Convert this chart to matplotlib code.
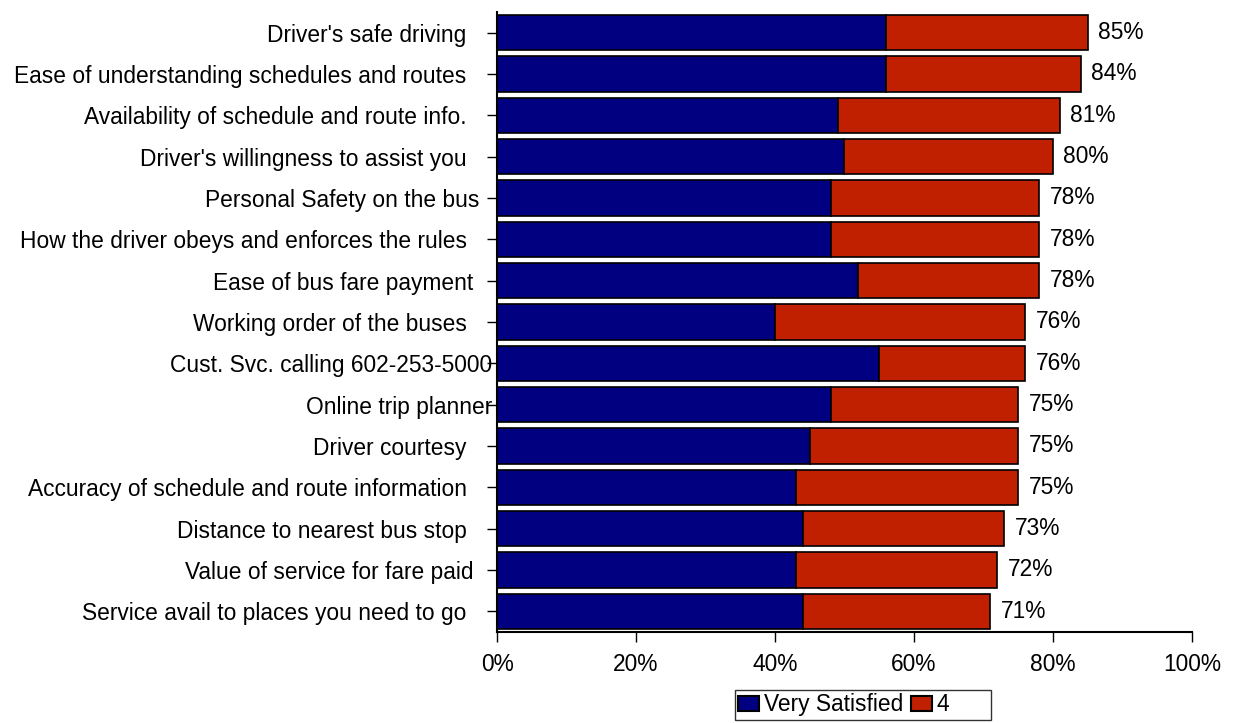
import matplotlib
matplotlib.use("Agg")
import matplotlib.pyplot as plt
import numpy as np

# categories listed top to bottom (trailing spaces as in the source labels)
categories = [
    "Driver's safe driving    ",
    "Ease of understanding schedules and routes    ",
    "Availability of schedule and route info.    ",
    "Driver's willingness to assist you    ",
    "Personal Safety on the bus  ",
    "How the driver obeys and enforces the rules    ",
    "Ease of bus fare payment   ",
    "Working order of the buses    ",
    "Cust. Svc. calling 602-253-5000",
    "Online trip planner",
    "Driver courtesy    ",
    "Accuracy of schedule and route information    ",
    "Distance to nearest bus stop    ",
    "Value of service for fare paid   ",
    "Service avail to places you need to go    ",
]
very_satisfied = [56, 56, 49, 50, 48, 48, 52, 40, 55, 48, 45, 43, 44, 43, 44]
totals = [85, 84, 81, 80, 78, 78, 78, 76, 76, 75, 75, 75, 73, 72, 71]
rating_4 = [t - v for t, v in zip(totals, very_satisfied)]
x_ticks = [0, 20, 40, 60, 80, 100]

plt.rcParams['font.family'] = ['Liberation Sans', 'DejaVu Sans']
fs = 16.4

fig = plt.figure(figsize=(12.33, 7.23), dpi=100)
ax = fig.add_axes([0.4031, 0.1259, 0.5636, 0.8575])

y = np.arange(len(categories))[::-1]
blue = "#000080"
red = "#C02000"

ax.barh(y, very_satisfied, height=0.86, color=blue, edgecolor="black",
        linewidth=1.2, label="Very Satisfied")
ax.barh(y, rating_4, left=very_satisfied, height=0.86, color=red,
        edgecolor="black", linewidth=1.2, label="4      ")

# total labels to the right of each bar
for yi, t in zip(y, totals):
    ax.text(t + 1.5, yi, f"{t}%", va="center", ha="left", fontsize=fs)

ax.set_xlim(0, 100)
ax.set_ylim(-0.5, len(categories) - 0.5)
ax.set_yticks(y)
ax.set_yticklabels(categories, fontsize=fs)
ax.set_xticks(x_ticks)
ax.set_xticklabels([f"{v}%" for v in x_ticks], fontsize=fs)

ax.spines["top"].set_visible(False)
ax.spines["right"].set_visible(False)
ax.spines["left"].set_linewidth(1.5)
ax.spines["bottom"].set_linewidth(1.5)
ax.tick_params(axis="y", length=7, width=1, pad=-3.5)
ax.tick_params(axis="x", length=7, width=1, pad=8)

leg = ax.legend(loc="upper left", bbox_to_anchor=(0.3424, -0.0935), ncol=2,
                frameon=True, fancybox=False, edgecolor="black", fontsize=fs,
                handlelength=0.9, handleheight=0.63, handletextpad=0.22,
                columnspacing=0.36, borderpad=0.15, borderaxespad=0)
leg.get_frame().set_linewidth(1.0)
for h in leg.legend_handles:
    h.set_edgecolor("black")
    h.set_linewidth(1.5)

fig.savefig("out.png", dpi=100)
